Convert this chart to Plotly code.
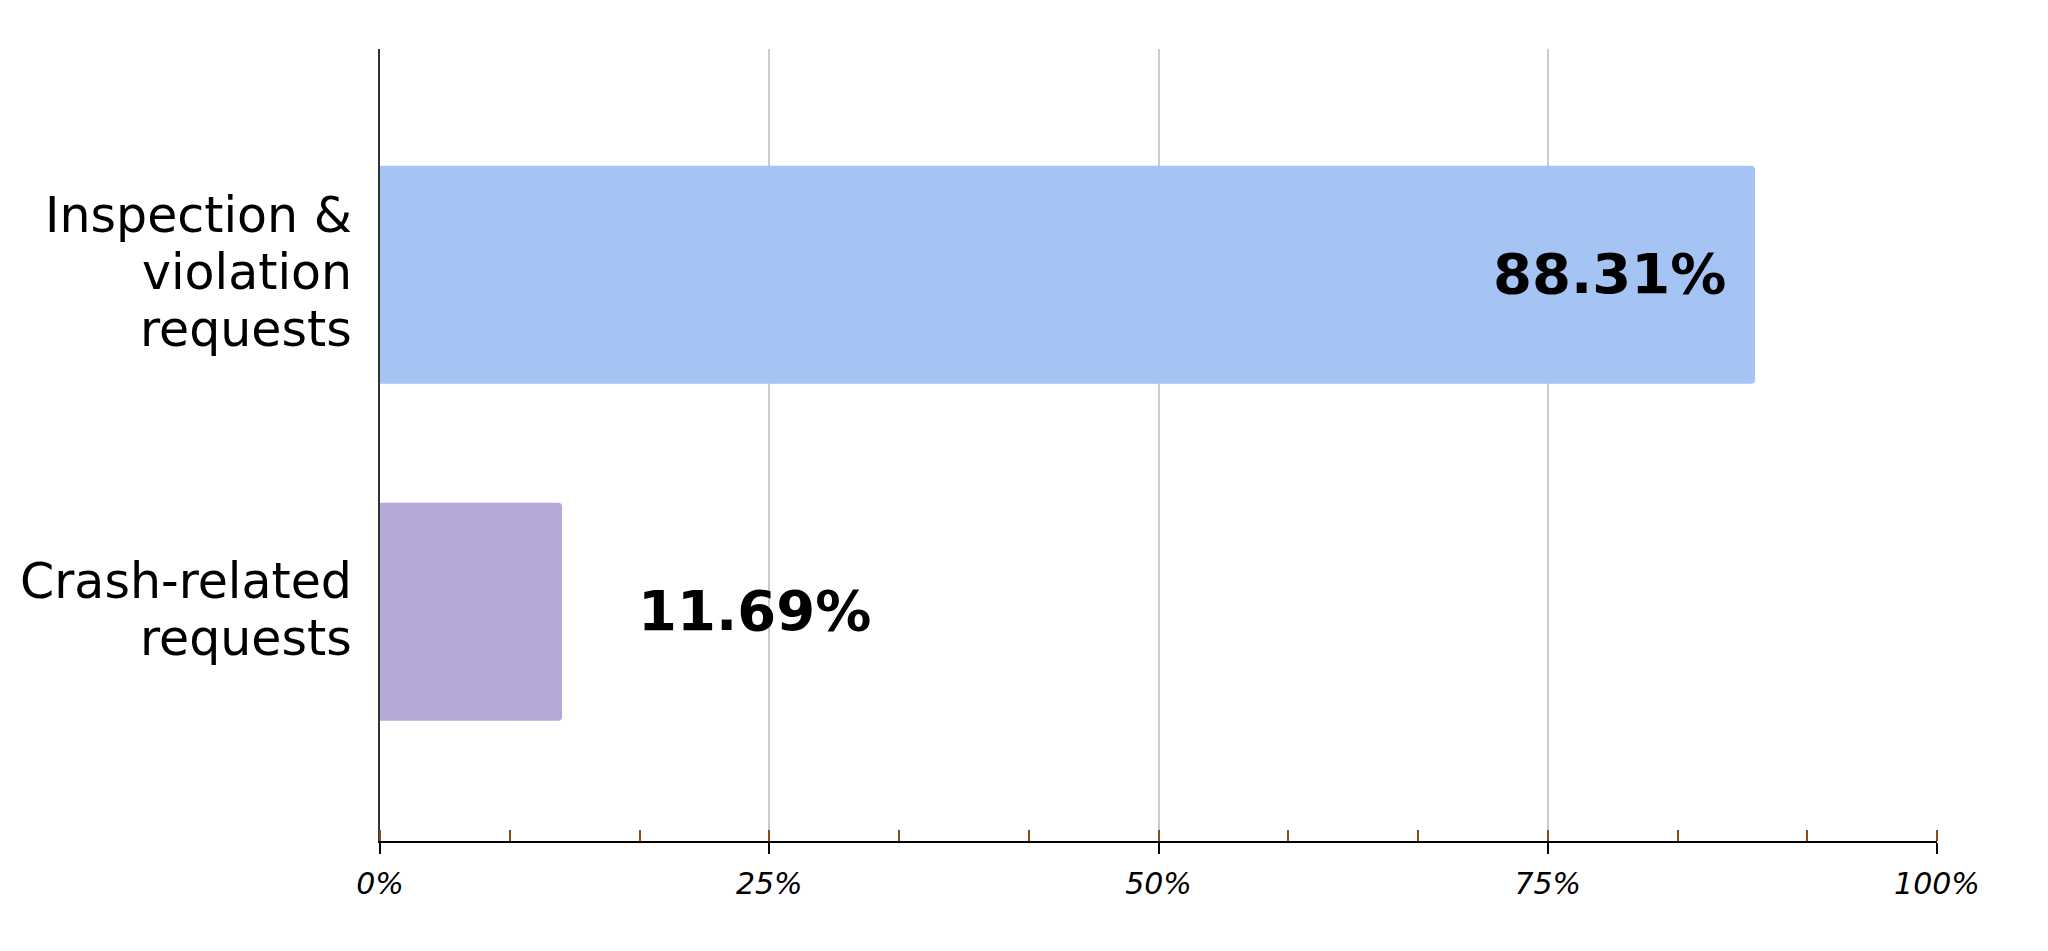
import plotly.graph_objects as go

categories = ["Inspection &<br>violation<br>requests", "Crash-related<br>requests"]
values = [88.31, 11.69]
bar_colors = ["#a5c3f3", "#b4a8d6"]
tick_vals = [0, 25, 50, 75, 100]
tick_text = ["0%", "25%", "50%", "75%", "100%"]

FONT = "DejaVu Sans"

fig = go.Figure()
fig.add_trace(go.Bar(
    y=categories, x=values, orientation="h",
    marker=dict(color=bar_colors, cornerradius=4, line=dict(width=0)),
    width=0.647, hoverinfo="skip", showlegend=False,
))

annotations = []
# value labels
for c, v in zip(categories, values):
    inside = v > 50
    annotations.append(dict(
        x=v, y=c, xref="x", yref="y", text=f"<b>{v:.2f}%</b>", showarrow=False,
        xanchor="right" if inside else "left", yanchor="middle",
        xshift=-27 if inside else 74, yshift=1,
        font=dict(family=FONT, size=56, color="#000000"),
    ))
# category labels, one annotation per line
LINE_H = 57
for c in categories:
    lines = c.split("<br>")
    n = len(lines)
    for j, ln in enumerate(lines):
        annotations.append(dict(
            x=0, y=c, xref="paper", yref="y", text=ln, showarrow=False,
            xanchor="right", yanchor="middle", xshift=-26,
            yshift=-((j - (n - 1) / 2) * LINE_H) + 2,
            font=dict(family=FONT, size=49, color="#000000"),
        ))

fig.update_layout(
    width=2048, height=951,
    margin=dict(l=372, r=119, t=41, b=118),
    paper_bgcolor="white", plot_bgcolor="white",
    font=dict(family=FONT, color="#000000"),
    annotations=annotations,
    xaxis=dict(
        range=[0, 100], tickvals=tick_vals, ticktext=tick_text,
        ticks="outside", ticklen=11, tickwidth=2, tickcolor="#000000",
        tickfont=dict(family=FONT, size=30, style="italic", color="#000000"),
        ticklabelstandoff=4,
        showline=True, linecolor="#000000", linewidth=2,
        showgrid=True, gridcolor="#cccccc", gridwidth=2, zeroline=False,
        minor=dict(ticks="inside", dtick=25 / 3, tick0=0, ticklen=11, tickwidth=2,
                   tickcolor="#8b4a0f", showgrid=False),
        fixedrange=True,
    ),
    xaxis2=dict(
        overlaying="x", anchor="y", side="bottom", range=[0, 100], tickvals=tick_vals,
        ticks="inside", ticklen=11, tickwidth=2, tickcolor="#000000",
        showticklabels=False, showgrid=False, showline=False, zeroline=False,
    ),
    yaxis=dict(
        type="category", range=[1.68, -0.67], showticklabels=False, ticks="",
        showline=True, linecolor="#333333", linewidth=2, showgrid=False, zeroline=False,
        fixedrange=True,
    ),
    bargap=0.35,
)

fig.write_html("out.html")
